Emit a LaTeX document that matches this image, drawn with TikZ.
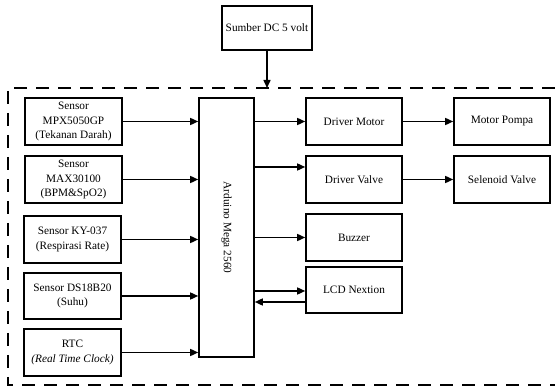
\documentclass[tikz,border=0pt]{standalone}
\usepackage{fontspec}
\setmainfont{Liberation Serif}
\usetikzlibrary{arrows.meta}
\begin{document}
\begin{tikzpicture}[x=1pt,y=-1pt,
  blk/.style={draw,line width=1.6pt,align=center,font=\fontsize{11.3}{14.7}\selectfont,inner sep=0pt},
  arr/.style={line width=1.5pt,-{Triangle[length=8pt,width=7pt]}},
  ln/.style={line width=1.5pt}]
\useasboundingbox (0,0) rectangle (555,387);
\fill[white] (0,0) rectangle (555,387);
% dashed frame
\draw[line width=2pt,dash pattern=on 13pt off 9pt] (555,88) -- (8,88) -- (8,385) -- (555,385);
% power
\node[blk,minimum width=90pt,minimum height=44pt] (dc) at (267,28) {Sumber DC 5 volt};
\coordinate (frametop) at (267,88);
\draw[arr] (dc.south) -- (frametop);
% inputs
\node[blk,minimum width=97pt,minimum height=47pt] (s1) at (73.5,121.5) {Sensor\\MPX5050GP\\(Tekanan Darah)};
\node[blk,minimum width=97pt,minimum height=47pt] (s2) at (73.5,179.5) {Sensor\\MAX30100\\(BPM\&SpO2)};
\node[blk,minimum width=97pt,minimum height=47pt] (s3) at (72.5,239.5) {Sensor KY-037\\(Respirasi Rate)};
\node[blk,minimum width=97pt,minimum height=46pt] (s4) at (72.5,296) {Sensor DS18B20\\(Suhu)};
\node[blk,minimum width=97pt,minimum height=47pt] (s5) at (72.5,352.5) {RTC\\\textit{(Real Time Clock)}};
% arduino
\node[blk,minimum width=55pt,minimum height=259pt] (ard) at (226.5,227.5) {};
\node[rotate=-90,font=\fontsize{11.3}{12}\selectfont] (ardl) at (ard.center) {Arduino Mega 2560};
% outputs
\node[blk,minimum width=96pt,minimum height=47pt] (dm) at (354,121.5) {Driver Motor};
\node[blk,minimum width=96pt,minimum height=47pt] (dv) at (354,179.5) {Driver Valve};
\node[blk,minimum width=96pt,minimum height=47pt] (bz) at (354,237.5) {Buzzer};
\node[blk,minimum width=96pt,minimum height=46pt] (lcd) at (354,290) {LCD Nextion};
\node[blk,minimum width=96pt,minimum height=47pt] (mp) at (502,121.5) {Motor Pompa};
\node[blk,minimum width=96pt,minimum height=47pt] (sv) at (502,179.5) {Selenoid Valve};
% input arrows
\foreach \s in {s1,s2,s3,s4,s5}{
  \draw[arr] (\s.east) -- (\s.east -| ard.west);
}
% output arrows
\draw[arr] (ard.east |- dm.west) -- (dm.west);
\draw[arr] (ard.east |- 0,167) -- (dv.west |- 0,167);
\draw[arr] (ard.east |- bz.west) -- (bz.west);
\draw[arr] (ard.east |- 0,291) -- (lcd.west |- 0,291);
\draw[arr] (lcd.west |- 0,302) -- (ard.east |- 0,302);
\draw[arr] (dm.east) -- (mp.west);
\draw[arr] (dv.east) -- (sv.west);
\end{tikzpicture}
\end{document}
